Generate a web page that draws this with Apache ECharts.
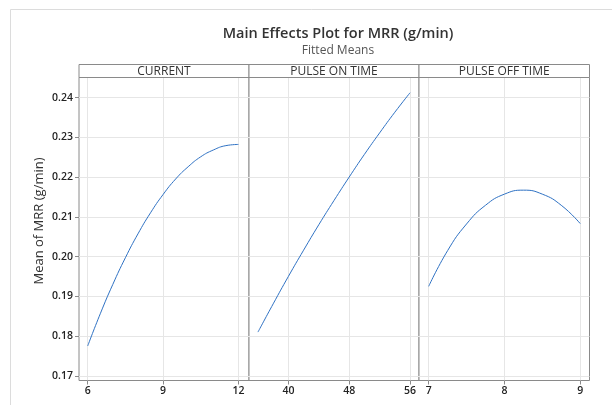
<!DOCTYPE html>
<html>
<head>
<meta charset="utf-8">
<script src="https://cdn.jsdelivr.net/npm/echarts@6/dist/echarts.min.js"></script>
<style>
html,body{margin:0;padding:0;background:#fff;}
#chart{width:612px;height:405px;}
</style>
</head>
<body>
<div id="chart"></div>
<script>
// ---- data ----
const panelTitles = ['CURRENT', 'PULSE ON TIME', 'PULSE OFF TIME'];
const currentX = [6, 6.5, 7, 7.5, 8, 8.5, 9, 9.5, 10, 10.5, 11, 11.5, 12];
const currentY = [0.1775, 0.1856, 0.1930, 0.1997, 0.2057, 0.2110, 0.2156, 0.2195, 0.2226, 0.2251, 0.2268, 0.2279, 0.2282];
const pulseOnX = [36, 38, 40, 42, 44, 46, 48, 50, 52, 54, 56];
const pulseOnY = [0.1810, 0.1881, 0.1950, 0.2016, 0.2080, 0.2141, 0.2200, 0.2257, 0.2311, 0.2363, 0.2412];
const pulseOffX = [7, 7.25, 7.5, 7.75, 8, 8.25, 8.5, 8.75, 9];
const pulseOffY = [0.1925, 0.2015, 0.2082, 0.2129, 0.2157, 0.2167, 0.2157, 0.2129, 0.2083];
const yTicks = [0.17, 0.18, 0.19, 0.20, 0.21, 0.22, 0.23, 0.24];
const xTicks1 = [6, 9, 12];
const xTicks2 = [40, 48, 56];
const xTicks3 = [7, 8, 9];
const titleText = 'Main Effects Plot for MRR (g/min)';
const subtitleText = 'Fitted Means';
const yAxisName = 'Mean of MRR (g/min)';

// ---- layout ----
const FONT = '"Open Sans", "Noto Sans", sans-serif';
const gridTop = 77.5, gridBottomY = 380.5;
const panels = [
  {left: 79, width: 170, xmin: 5.654, xmax: 12.42, ticks: xTicks1, x: currentX, y: currentY},
  {left: 249, width: 170, xmin: 34.82, xmax: 57.18, ticks: xTicks2, x: pulseOnX, y: pulseOnY},
  {left: 419, width: 170.5, xmin: 6.872, xmax: 9.123, ticks: xTicks3, x: pulseOffX, y: pulseOffY}
];
const yMin = 0.16882, yMax = 0.24504;

const chart = echarts.init(document.getElementById('chart'), null, {renderer: 'canvas'});

const grids = [], xAxes = [], yAxes = [], series = [], graphics = [];
panels.forEach((p, i) => {
  grids.push({left: p.left, top: gridTop, width: p.width, height: gridBottomY - gridTop,
    show: true, borderColor: '#8a8a8a', borderWidth: 1, backgroundColor: '#fff', containLabel: false});
  xAxes.push({type: 'value', gridIndex: i, min: p.xmin, max: p.xmax,
    axisLine: {show: false},
    axisTick: {show: true, length: 4, lineStyle: {color: '#8a8a8a'}, customValues: p.ticks},
    axisLabel: {show: true, customValues: p.ticks, color: '#222', fontSize: 10.5, fontWeight: 600, fontFamily: FONT, margin: 5,
      formatter: v => String(v)},
    splitLine: {show: true, lineStyle: {color: '#e6e6e6', width: 1}}
  });
  yAxes.push({type: 'value', gridIndex: i, min: yMin, max: yMax,
    axisLine: {show: false},
    axisTick: {show: i === 0, length: 4, lineStyle: {color: '#8a8a8a'}, customValues: yTicks},
    axisLabel: {show: i === 0, customValues: yTicks, color: '#222', fontSize: 10.5, fontWeight: 600, fontFamily: FONT, margin: 6,
      formatter: v => v.toFixed(2)},
    splitLine: {show: true, lineStyle: {color: '#e6e6e6', width: 1}}
  });
  series.push({type: 'line', xAxisIndex: i, yAxisIndex: i, smooth: 0.5, showSymbol: false,
    data: p.x.map((xv, k) => [xv, p.y[k]]),
    lineStyle: {color: '#2f72c4', width: 1}, itemStyle: {color: '#2f72c4'}, silent: true, animation: false});
  // strip header
  graphics.push({type: 'rect', shape: {x: p.left, y: 64.5, width: p.width, height: 13},
    style: {fill: '#fff', stroke: '#8a8a8a', lineWidth: 1}, z: 10});
  graphics.push({type: 'text', x: p.left + p.width / 2, y: 71.5,
    style: {text: panelTitles[i], fill: '#333', font: '12px ' + FONT, textAlign: 'center', textVerticalAlign: 'middle'}, z: 11});
});

// outer frame (top and left visible)
graphics.push({type: 'line', shape: {x1: 10.5, y1: 9.5, x2: 612, y2: 9.5}, style: {stroke: '#dcdcdc', lineWidth: 1}, z: 1});
graphics.push({type: 'line', shape: {x1: 10.5, y1: 9.5, x2: 10.5, y2: 405}, style: {stroke: '#dcdcdc', lineWidth: 1}, z: 1});
// y axis name
graphics.push({type: 'text', x: 39.5, y: 221, rotation: Math.PI / 2,
  style: {text: yAxisName, fill: '#333', font: '13px ' + FONT, textAlign: 'center', textVerticalAlign: 'middle'}, z: 11});

chart.setOption({
  animation: false,
  backgroundColor: '#fff',
  title: [
    {text: titleText, left: 333, top: 21, textAlign: 'center',
      textStyle: {fontFamily: FONT, fontSize: 14.5, fontWeight: 600, color: '#333'}},
    {text: subtitleText, left: 333, top: 40, textAlign: 'center',
      textStyle: {fontFamily: FONT, fontSize: 12, fontWeight: 'normal', color: '#555'}}
  ],
  grid: grids,
  xAxis: xAxes,
  yAxis: yAxes,
  series: series,
  graphic: graphics
});
</script>
</body>
</html>
